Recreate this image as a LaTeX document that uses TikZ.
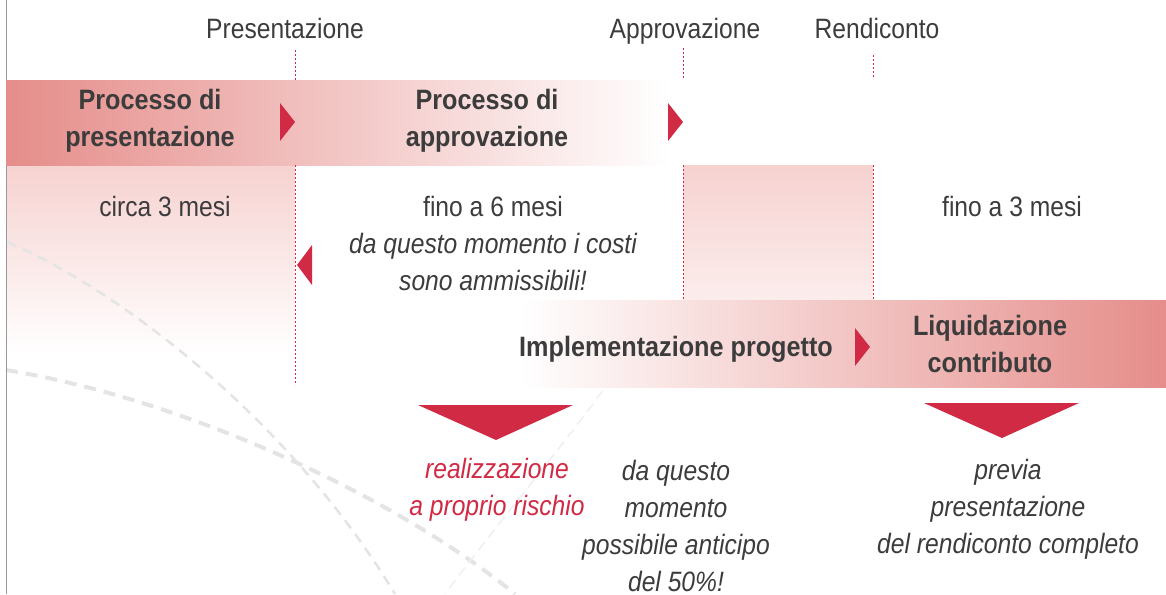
\documentclass[tikz,border=0pt]{standalone}
\usepackage{fontspec}
\setmainfont{Liberation Sans}[FakeStretch=0.88]
\newfontfamily\heavyfont{Liberation Sans}[FakeStretch=0.9]
\usepackage{tikz}
\usetikzlibrary{positioning}
\usetikzlibrary{calc}
\definecolor{bandred}{HTML}{E58D8A}
\definecolor{tipred}{HTML}{D12A44}
\definecolor{boxpink}{HTML}{F6D2D0}
\definecolor{txtgray}{HTML}{3C3C3C}
\definecolor{trailgray}{HTML}{E4E4E4}
\tikzstyle{phase}=[font=\heavyfont\bfseries\fontsize{28}{37}\selectfont,text=txtgray,align=center,inner sep=0pt]
\tikzstyle{milestone}=[font=\fontsize{28}{36}\selectfont,text=txtgray,inner sep=0pt,anchor=base]
\tikzstyle{duration}=[font=\fontsize{28}{37}\selectfont,text=txtgray,align=center,inner sep=0pt]
\tikzstyle{note}=[font=\itshape\fontsize{28}{37}\selectfont,text=txtgray,align=center,inner sep=0pt]
\tikzstyle{tick}=[draw=tipred,line width=0.8pt,dash pattern=on 2pt off 2pt]
\tikzstyle{pointer}=[fill=tipred]
\tikzstyle{trail}=[draw=trailgray,dash pattern=on 12pt off 8pt]

\begin{document}
\begin{tikzpicture}[x=1pt,y=-1pt]

 \useasboundingbox (0,0) rectangle (1166,594);

 %boxes under the bands
 \shade[top color=boxpink, bottom color=white] (6,165) rectangle (295,355);
 \shade[top color=boxpink, bottom color=boxpink!40] (683,165) rectangle (873,300);

 %trails
 \draw[trail, line width=4pt] (6,370) .. controls (190,400) and (400,500) .. (515,594);
 \draw[trail, line width=2.5pt, dash pattern=on 10pt off 7pt] (7,242) .. controls (120,290) and (290,420) .. (395,594);
 \draw[trail, draw=trailgray!60, line width=1.5pt, dash pattern=on 10pt off 6pt] (612,378) .. controls (560,450) and (500,520) .. (445,594);

 \draw[gray!80, line width=1pt] (6,0) -- (6,594);

 %bands
 \shade[left color=bandred, right color=white] (6,80) rectangle (670,165);
 \shade[left color=white, right color=bandred] (520,300) rectangle (1166,387);

 %milestones
   \foreach \x/\y/\name/\label in {285/38/pres/Presentazione, 685/38/appr/Approvazione, 877/38/rend/Rendiconto}
          \node[milestone] (\name) at (\x,\y) {\label};

   \foreach \x/\ya/\yb in {295/50/80, 295/165/385, 683/48/78, 683/165/300, 873/55/78, 873/165/300}
          \draw[tick] (\x,\ya) -- (\x,\yb);

 %phases
   \foreach \x/\y/\name/\label in {150/121/P1/{Processo di\\presentazione}, 487/121/P2/{Processo di\\approvazione}, 676/349/P3/{Implementazione progetto}, 990/344/P4/{Liquidazione\\contributo}}
          \node[phase] (\name) at (\x,\y) {\label};

   \foreach \x/\y in {295/122, 683/122, 870/347}
          \fill[pointer] (\x,\y) -- ++(-15,-19) -- ++(0,38) -- cycle;

   \fill[pointer] (297,265) -- ++(15,-20) -- ++(0,40) -- cycle;

 %durations
   \foreach \x/\y/\name/\label in {165/206/D1/circa 3 mesi, 493/206/D2/fino a 6 mesi, 1012/206/D3/fino a 3 mesi}
          \node[duration] (\name) at (\x,\y) {\label};

 \node[note] (cost) at (493,262) {da questo momento i costi\\sono ammissibili!};

 %outcomes
   \foreach \x/\y in {496/440, 1002/438}
          \fill[pointer] (\x,\y) -- ++(-78,-35) -- ++(155,0) -- cycle;

 \node[note, text=tipred] (risk) at (497,490) {realizzazione\\a proprio rischio};
 \node[note] (adv) at (676,526) {da questo\\momento\\possibile anticipo\\del 50\%!};
 \node[note] (pay) at (1008,509) {previa\\presentazione\\del rendiconto completo};

\end{tikzpicture}
\end{document}
